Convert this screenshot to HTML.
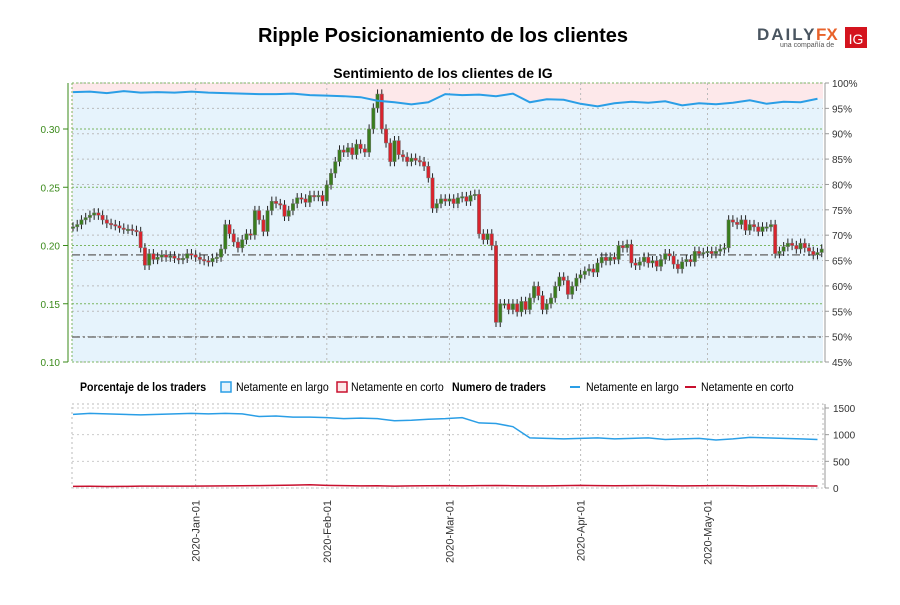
<!DOCTYPE html>
<html><head><meta charset="utf-8"><style>
body{margin:0;background:#fff;font-family:"Liberation Sans",sans-serif}
svg text{font-family:"Liberation Sans",sans-serif}
</style></head><body>
<svg id="c" width="900" height="600" xmlns="http://www.w3.org/2000/svg">
<text x="443" y="42" text-anchor="middle" font-size="20" font-weight="bold">Ripple Posicionamiento de los clientes</text>
<g>
<text x="757" y="40" font-size="17" font-weight="bold" fill="#4a5560" letter-spacing="2">DAILY</text>
<text x="816" y="40" font-size="17" font-weight="bold" fill="#e8622a">FX</text>
<text x="780" y="47" font-size="7" fill="#555">una compañía de</text>
<rect x="845" y="27" width="22" height="21" fill="#d4141e"/>
<text x="856" y="44" text-anchor="middle" font-size="14" fill="#fff">IG</text>
</g>
<text x="443" y="78" text-anchor="middle" font-size="14" font-weight="bold">Sentimiento de los clientes de IG</text>
<g id="main"></g>
<g id="legend" font-size="12">
<text x="80" y="391" font-weight="bold" transform="translate(80,0) scale(0.88,1) translate(-80,0)">Porcentaje de los traders</text>
<rect x="221" y="382" width="10" height="10" fill="#e6f3fc" stroke="#2a9ee6" stroke-width="1.5"/>
<text x="236" y="391" transform="translate(236,0) scale(0.88,1) translate(-236,0)">Netamente en largo</text>
<rect x="337" y="382" width="10" height="10" fill="#fde8e8" stroke="#c8102e" stroke-width="1.5"/>
<text x="351" y="391" transform="translate(351,0) scale(0.88,1) translate(-351,0)">Netamente en corto</text>
<text x="452" y="391" font-weight="bold" transform="translate(452,0) scale(0.88,1) translate(-452,0)">Numero de traders</text>
<line x1="570" y1="387" x2="580" y2="387" stroke="#2a9ee6" stroke-width="2"/>
<text x="586" y="391" transform="translate(586,0) scale(0.88,1) translate(-586,0)">Netamente en largo</text>
<line x1="685" y1="387" x2="696" y2="387" stroke="#c8102e" stroke-width="2"/>
<text x="701" y="391" transform="translate(701,0) scale(0.88,1) translate(-701,0)">Netamente en corto</text>
</g>
<g id="sub"></g>
</svg>
<script>
const closes=[0.216,0.218,0.222,0.224,0.226,0.228,0.226,0.222,0.219,0.218,0.217,0.215,0.214,0.214,0.213,0.212,0.198,0.183,0.193,0.188,0.190,0.192,0.190,0.191,0.189,0.188,0.189,0.193,0.192,
0.190,0.188,0.187,0.186,0.189,0.190,0.197,0.218,0.210,0.203,0.198,0.205,0.210,0.209,0.230,0.222,0.212,0.230,0.238,0.236,0.235,0.225,0.230,0.236,0.241,0.240,0.237,0.243,0.242,0.243,0.238,
0.252,0.262,0.272,0.282,0.280,0.284,0.278,0.287,0.283,0.280,0.300,0.318,0.330,0.300,0.288,0.272,0.290,0.278,0.276,0.272,0.275,0.273,0.272,0.268,0.258,0.232,0.236,0.240,0.238,
0.240,0.236,0.241,0.242,0.238,0.243,0.244,0.210,0.205,0.210,0.200,0.134,0.150,0.150,0.145,0.150,0.143,0.152,0.145,0.155,0.165,0.157,0.145,0.150,0.155,0.165,0.173,0.170,0.158,0.165,0.172,
0.175,0.178,0.180,0.177,0.185,0.190,0.187,0.190,0.188,0.200,0.198,0.201,0.185,0.183,0.186,0.190,0.185,0.187,0.182,0.188,0.193,0.191,0.184,0.180,0.186,0.188,0.186,0.195,0.193,0.194,
0.195,0.193,0.195,0.197,0.198,0.222,0.220,0.218,0.222,0.213,0.218,0.216,0.212,0.216,0.216,0.218,0.193,0.195,0.199,0.202,0.200,0.197,0.202,0.198,0.195,0.192,0.194,0.197];
const longPct=[98.2,98.3,98.0,98.4,98.1,98.2,98.1,98.3,98.1,98.0,97.9,97.8,97.8,97.9,97.6,97.5,97.4,97.2,96.5,96.2,95.8,96.2,97.8,97.6,97.7,97.4,97.9,96.2,96.8,96.7,95.9,95.4,96.0,96.3,96.1,96.4,95.6,96.0,95.8,96.1,96.6,95.9,96.3,96.2,96.9];
const longTraders=[1380,1400,1390,1380,1370,1380,1390,1400,1390,1400,1390,1340,1350,1330,1330,1320,1300,1310,1300,1260,1270,1290,1300,1320,1220,1210,1150,940,930,920,930,940,920,930,940,910,920,930,900,920,950,940,930,920,910];
const shortTraders=[30,32,28,30,35,34,35,36,38,40,42,45,50,55,60,50,45,40,42,35,40,42,45,40,44,48,42,40,40,44,50,45,42,45,48,44,40,42,45,44,40,42,45,40,38];
const priceTicks=[0.10,0.15,0.20,0.25,0.30];
const refLevels=[0.192,0.1215];
const pctTicks=[45,50,55,60,65,70,75,80,85,90,95,100];
const traderTicks=[0,500,1000,1500];
const monthLabels=["2020-Jan-01","2020-Feb-01","2020-Mar-01","2020-Apr-01","2020-May-01"];
const monthDayIdx=[29,60,89,120,150];
const NS="http://www.w3.org/2000/svg";
const L=72,R=823,T=83,B=362,ST=404,SB=488;
const X=i=>L+1+i*4.23;
const YP=p=>B-(p-0.10)*(B-129)/0.20;
const YC=v=>B-(v-45)*(B-T)/55;
const YT=v=>SB-v*(SB-408)/1500;
function el(t,a,p){const e=document.createElementNS(NS,t);for(const k in a)e.setAttribute(k,a[k]);(p||document.getElementById('main')).appendChild(e);return e;}
const m=document.getElementById('main'),s=document.getElementById('sub');
let pts=longPct.map((v,i)=>[X(i*4),YC(v)]);
let bg=el('rect',{x:L,y:T,width:R-L,height:B-T,fill:'#fde8ea'});

let blue=el('path',{d:'M'+L+','+B+' L'+pts.map(p=>p.join(',')).join(' L')+' L'+R+','+pts[pts.length-1][1]+' L'+R+','+B+'Z',fill:'#e6f3fc'});

pctTicks.forEach(v=>{el('line',{x1:L,x2:R,y1:YC(v),y2:YC(v),stroke:'#bbb','stroke-dasharray':'2,3'});
 const t=el('text',{x:R+9,y:YC(v)+4,'font-size':10,fill:'#333'});t.textContent=v+'%';
 el('line',{x1:R+2,x2:R+6,y1:YC(v),y2:YC(v),stroke:'#999'});});
priceTicks.forEach(v=>{el('line',{x1:L,x2:R,y1:YP(v),y2:YP(v),stroke:'#7bb661','stroke-dasharray':'2,2'});
 const t=el('text',{x:60,y:YP(v)+4,'font-size':10,fill:'#3a8a1a','text-anchor':'end'});t.textContent=v.toFixed(2);
 el('line',{x1:63,x2:68,y1:YP(v),y2:YP(v),stroke:'#3a8a1a'});});
el('line',{x1:L,x2:R,y1:T,y2:T,stroke:'#7bb661','stroke-dasharray':'2,2'});
el('line',{x1:68,x2:68,y1:T,y2:B,stroke:'#3a8a1a'});
el('line',{x1:R+2,x2:R+2,y1:T,y2:B,stroke:'#999'});
el('line',{x1:L,x2:L,y1:T,y2:B,stroke:'#7bb661','stroke-dasharray':'2,2'});
monthDayIdx.forEach((d,k)=>{el('line',{x1:X(d),x2:X(d),y1:T,y2:B,stroke:'#bbb','stroke-dasharray':'2,3'});
 el('line',{x1:X(d),x2:X(d),y1:ST,y2:SB,stroke:'#bbb','stroke-dasharray':'2,3'},s);
 const t=el('text',{x:0,y:0,'font-size':11,fill:'#333','text-anchor':'end',transform:'translate('+(X(d)+4)+',500) rotate(-90)'},s);
 t.textContent=monthLabels[k];});
refLevels.forEach(v=>el('line',{x1:L,x2:R,y1:YP(v),y2:YP(v),stroke:'#777','stroke-width':1.5,'stroke-dasharray':'8,3,2,3'}));
closes.forEach((c,i)=>{const o=i?closes[i-1]:c;const up=c>=o;const hi=Math.max(o,c)+0.004,lo=Math.min(o,c)-0.004;
 const g=el('g',{});
 el('line',{x1:X(i),x2:X(i),y1:YP(hi),y2:YP(lo),stroke:'#222'},g);
 const y1=YP(Math.max(o,c)),h=Math.max(1.5,YP(Math.min(o,c))-y1);
 el('rect',{x:X(i)-1.7,y:y1,width:3.4,height:h,fill:up?'#3a7d1e':'#d9232d',stroke:'#777','stroke-width':0.5},g);});
let ln=el('polyline',{points:pts.map(p=>p.join(',')).join(' '),fill:'none',stroke:'#2a9ee6','stroke-width':2});

el('rect',{x:L,y:ST,width:R-L,height:SB-ST,fill:'none',stroke:'#bbb','stroke-dasharray':'2,3'},s);
traderTicks.forEach(v=>{el('line',{x1:L,x2:R,y1:YT(v),y2:YT(v),stroke:'#ccc','stroke-dasharray':'2,3'},s);
 el('line',{x1:R+2,x2:R+6,y1:YT(v),y2:YT(v),stroke:'#999'},s);
 const t=el('text',{x:R+10,y:YT(v)+4,'font-size':10,fill:'#333'},s);t.textContent=v;});
el('line',{x1:R+2,x2:R+2,y1:ST,y2:SB,stroke:'#999'},s);
let l2=el('polyline',{points:longTraders.map((v,i)=>X(i*4)+','+YT(v)).join(' '),fill:'none',stroke:'#2a9ee6','stroke-width':1.5},s);

let l3=el('polyline',{points:shortTraders.map((v,i)=>X(i*4)+','+YT(v)).join(' '),fill:'none',stroke:'#c8102e','stroke-width':1.5},s);

</script>
</body></html>
